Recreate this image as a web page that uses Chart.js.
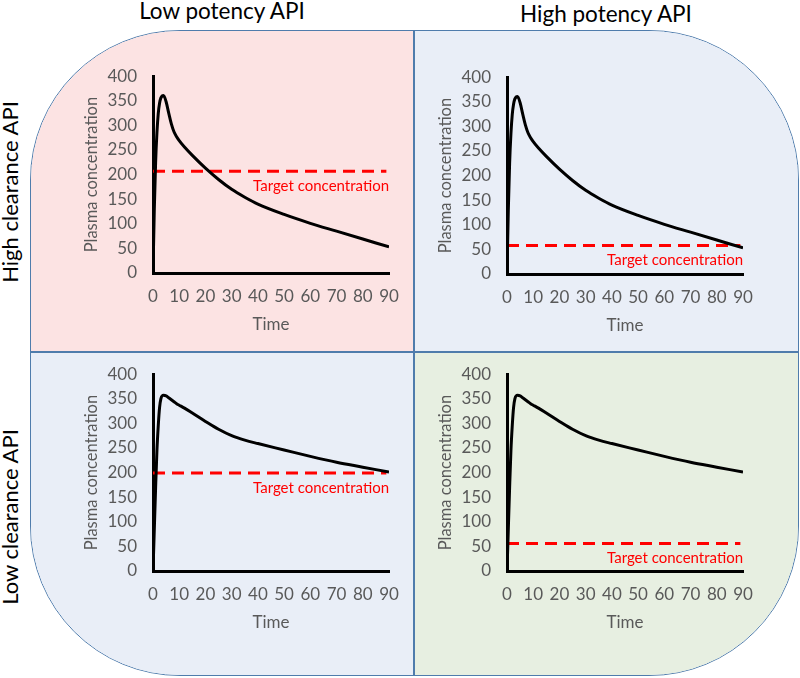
<!DOCTYPE html>
<html lang="en">
<head>
  <meta charset="UTF-8" />
  <title>Potency vs clearance</title>
  <script src="https://cdn.jsdelivr.net/npm/chart.js"></script>
  <style>
    body { margin: 0; background: #fff; font-family: Lato, sans-serif; }
    #page { position: relative; width: 800px; height: 678px; overflow: hidden; }
    #frame { position: absolute; left: 30px; top: 30px; width: 769px; height: 646px; box-sizing: border-box;
             border: 1.5px solid #4f7cac; border-radius: 150px; overflow: hidden; }
    .quad { position: absolute; }
    .vline { position: absolute; left: 382px; top: 0; bottom: 0; width: 2px; background: #4f7cac; }
    .hline { position: absolute; top: 320px; left: 0; right: 0; height: 2px; background: #4f7cac; }
    .head { position: absolute; width: 240px; text-align: center; font-size: 22.5px; line-height: 22px; color: #000; }
    .side { position: absolute; width: 240px; text-align: center; font-size: 22px; line-height: 22px; color: #000;
            transform: rotate(-90deg); }
    canvas { position: absolute; }
  </style>
</head>
<body>
  <div id="page">
    <div id="frame">
      <div class="quad" style="left:0;top:0;width:383px;height:321px;background:#fce3e3"></div>
      <div class="quad" style="left:383px;top:0;right:0;height:321px;background:#e9eef7"></div>
      <div class="quad" style="left:0;top:321px;width:383px;bottom:0;background:#e9eef7"></div>
      <div class="quad" style="left:383px;top:321px;right:0;bottom:0;background:#e7efe1"></div>
      <div class="vline"></div>
      <div class="hline"></div>
    </div>

    <div class="head" style="left:102px;top:0px">Low potency API</div>
    <div class="head" style="left:486px;top:3px">High potency API</div>
    <div class="side" style="left:-110px;top:181px">High clearance API</div>
    <div class="side" style="left:-110px;top:506px">Low clearance API</div>

    <canvas id="c1" width="365" height="290" style="left:40px;top:50px"></canvas>
    <canvas id="c2" width="365" height="290" style="left:394px;top:51px"></canvas>
    <canvas id="c3" width="365" height="290" style="left:40px;top:348px"></canvas>
    <canvas id="c4" width="365" height="290" style="left:394px;top:348px"></canvas>
  </div>

  <script>
    // time points shared by both curves
    const times = [0, 0.5, 1, 1.5, 2, 2.5, 3, 4, 5, 6, 7, 8, 9, 10, 12, 15, 20, 25, 30, 35, 40, 50, 60, 70, 80, 90];
    // plasma concentration, high clearance API (top row)
    const highClearance = [0, 130, 225, 285, 324, 345, 356, 361, 348, 325, 303, 287, 277, 269, 256, 239, 213, 190, 170, 154, 140, 119, 101, 85, 69, 53];
    // plasma concentration, low clearance API (bottom row)
    const lowClearance = [0, 85, 170, 245, 295, 332, 350, 357, 356, 352, 348, 344, 340, 337, 331, 321, 304, 288, 275, 266, 259, 246, 233, 221, 211, 201];
    // target concentration lines: top-left, top-right, bottom-left, bottom-right
    const targetTimes = [0, 89];
    const targetLevels = [207, 58, 199, 56];

    const grey = '#595959';

    const targetLabel = {
      id: 'targetLabel',
      afterDatasetsDraw(chart) {
        const ctx = chart.ctx;
        const pts = chart.data.datasets[1].data;
        const last = pts[pts.length - 1];
        ctx.save();
        ctx.fillStyle = '#ff0000';
        ctx.font = '15px Lato';
        ctx.textAlign = 'right';
        ctx.textBaseline = 'middle';
        ctx.fillText('Target concentration', chart.scales.x.getPixelForValue(90), chart.scales.y.getPixelForValue(last.y) + 15);
        ctx.restore();
      }
    };

    function makeChart(id, curve, target) {
      return new Chart(document.getElementById(id), {
        type: 'line',
        data: {
          datasets: [
            {
              data: times.map((t, i) => ({ x: t, y: curve[i] })),
              borderColor: '#000', borderWidth: 3, pointRadius: 0, cubicInterpolationMode: 'monotone'
            },
            {
              data: targetTimes.map(t => ({ x: t, y: target })),
              borderColor: '#ff0000', borderWidth: 3, borderDash: [12, 7], pointRadius: 0
            }
          ]
        },
        options: {
          responsive: false,
          animation: false,
          events: [],
          layout: { padding: { left: 0, right: 16, top: 26, bottom: 0 } },
          plugins: { legend: { display: false }, tooltip: { enabled: false } },
          scales: {
            x: {
              type: 'linear', min: 0, max: 90,
              ticks: { stepSize: 10, color: grey, font: { family: 'Lato', size: 17 }, padding: 13, maxRotation: 0 },
              grid: { display: false, drawTicks: false },
              border: { color: '#000', width: 3 },
              title: { display: true, text: 'Time', color: grey, font: { family: 'Lato', size: 17 }, padding: { top: 0, bottom: 5 } },
              afterFit(s) { s.height = 67; s.paddingRight = 0; s.paddingLeft = 0; }
            },
            y: {
              min: 0, max: 400,
              ticks: { stepSize: 50, color: grey, font: { family: 'Lato', size: 17 }, padding: 16 },
              grid: { display: false, drawTicks: false },
              border: { color: '#000', width: 3 },
              title: { display: true, text: 'Plasma concentration', color: grey, font: { family: 'Lato', size: 16.5 }, padding: { top: 42, bottom: 0 } },
              afterFit(s) { s.width = 113; }
            }
          }
        },
        plugins: [targetLabel]
      });
    }

    makeChart('c1', highClearance, targetLevels[0]);
    makeChart('c2', highClearance, targetLevels[1]);
    makeChart('c3', lowClearance, targetLevels[2]);
    makeChart('c4', lowClearance, targetLevels[3]);
  </script>
</body>
</html>
